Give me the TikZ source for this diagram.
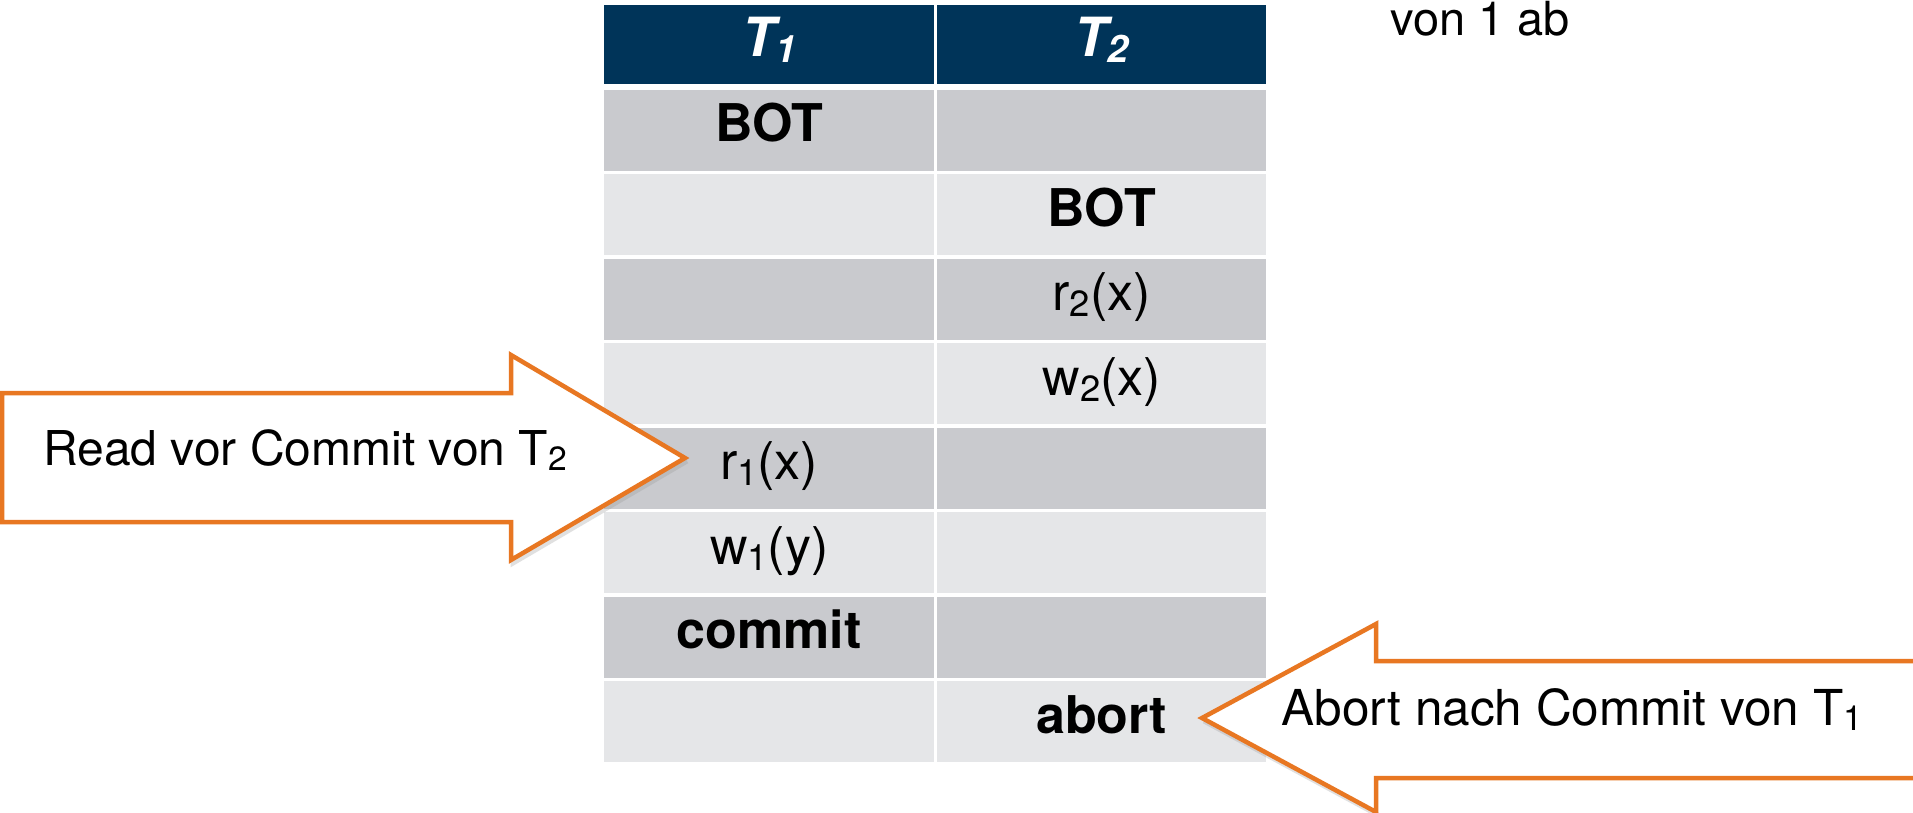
\documentclass[tikz,border=0pt]{standalone}
\usepackage{fontspec}
\setmainfont{TeX Gyre Heros}
\definecolor{navy}{RGB}{0,52,89}
\definecolor{rowdk}{RGB}{201,202,206}
\definecolor{rowlt}{RGB}{229,230,232}
\definecolor{orng}{RGB}{232,119,34}
\newcommand{\sbt}[1]{\raisebox{-0.12em}{\scalebox{0.7}{#1}}}
\begin{document}
\begin{tikzpicture}[x=1pt,y=-1pt,
  cell/.style={anchor=north west, inner sep=0pt, minimum height=81pt, text height=37pt, text depth=14pt, align=center, font=\fontsize{52}{60}\selectfont},
  ca/.style={cell, minimum width=330pt},
  cb/.style={cell, minimum width=329pt},
  hdr/.style={fill=navy, text=white, minimum height=79pt, font=\fontsize{54}{60}\selectfont\bfseries\itshape},
  dk/.style={fill=rowdk},
  lt/.style={fill=rowlt},
  callout/.style={draw=orng, line width=4.5pt, fill=white, line join=miter},
  shade/.style={draw=black!40, line width=5pt, opacity=0.3},
  note/.style={anchor=base west, inner sep=0pt, font=\fontsize{48}{56}\selectfont}
]
\clip (0,0) rectangle (1913,813);
\fill[white] (0,0) rectangle (1913,813);

% header
\node[ca,hdr] (h1) at (604,5) {T\sbt{1}};
\node[cb,hdr] (h2) at (937,5) {T\sbt{2}};

% rows
\node[ca,dk] (a1) at (604,89.5) {\bfseries BOT};
\node[cb,dk] (b1) at (937,89.5) {};
\node[ca,lt] (a2) at (604,174) {};
\node[cb,lt] (b2) at (937,174) {\bfseries BOT};
\node[ca,dk] (a3) at (604,258.5) {};
\node[cb,dk] (b3) at (937,258.5) {r\sbt{2}(x)};
\node[ca,lt] (a4) at (604,343) {};
\node[cb,lt] (b4) at (937,343) {w\sbt{2}(x)};
\node[ca,dk] (a5) at (604,427.5) {r\sbt{1}(x)};
\node[cb,dk] (b5) at (937,427.5) {};
\node[ca,lt] (a6) at (604,512) {w\sbt{1}(y)};
\node[cb,lt] (b6) at (937,512) {};
\node[ca,dk] (a7) at (604,596.5) {\bfseries commit};
\node[cb,dk] (b7) at (937,596.5) {};
\node[ca,lt] (a8) at (604,681) {};
\node[cb,lt] (b8) at (937,681) {\bfseries abort};

% top note
\node[note, font=\fontsize{47}{56}\selectfont] (top) at (1390,36) {von 1 ab};

% left callout arrow
\draw[shade, shift={(2,3)}] (511,522) -- (511,560) -- (685,458);
\draw[callout] (2,393) -- (511,393) -- (511,355) -- (685,458) -- (511,560) -- (511,522) -- (2,522) -- cycle;
\node[note] (rd) at (43,465) {Read vor Commit von T\sbt{2}};

% right callout arrow
\draw[shade, shift={(2,3)}] (1202,718) -- (1376,812);
\draw[callout] (1202,718) -- (1376,624) -- (1376,661) -- (1940,661) -- (1940,778) -- (1376,778) -- (1376,812) -- cycle;
\node[note, font=\fontsize{49.5}{56}\selectfont] (ab) at (1281,725) {Abort nach Commit von T\sbt{1}};
\end{tikzpicture}
\end{document}
